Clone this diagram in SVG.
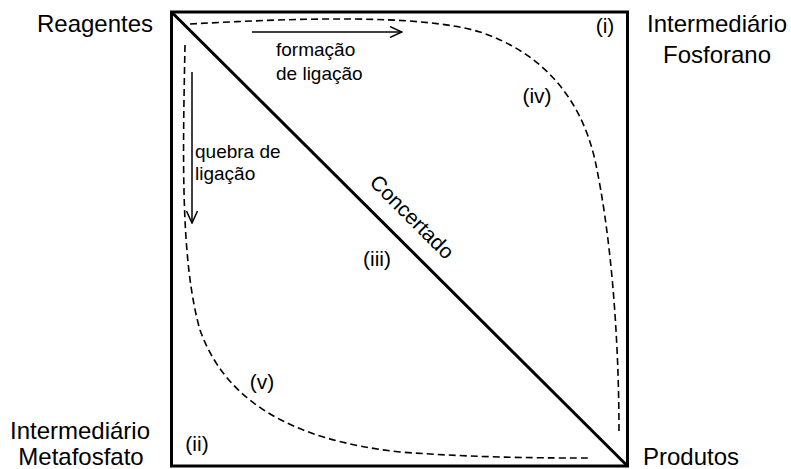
<svg xmlns="http://www.w3.org/2000/svg" width="791" height="469" viewBox="0 0 791 469">
<style>
text{font-family:"Liberation Sans",Arial,sans-serif;fill:#000}
.big{font-size:24px}
.small{font-size:19px}
.num{font-size:21px}
.dash{fill:none;stroke:#000;stroke-width:1.6;stroke-dasharray:7 4}
.arr{fill:none;stroke:#000;stroke-width:1.5}
</style>
<defs>
<marker id="open" viewBox="0 0 14 12" refX="13" refY="6" markerWidth="14" markerHeight="12" markerUnits="userSpaceOnUse" orient="auto">
<path d="M1,0.5 L13,6 L1,11.5" fill="none" stroke="#000" stroke-width="1.5"/>
</marker>
</defs>
<rect width="791" height="469" fill="#fff"/>
<g id="frame">
<rect x="171.5" y="12" width="456" height="454" fill="none" stroke="#000" stroke-width="3"/>
</g>
<g id="connectors">
<line id="concertado-line" x1="171.5" y1="12" x2="627.5" y2="466" stroke="#000" stroke-width="3"/>
<path id="path-iv" class="dash" d="M190,24 C300,18 420,14 480,32 C540,52 580,95 595,160 C610,230 619,330 619,433"/>
<path id="path-v" class="dash" d="M185,45 C183,150 180,260 200,330 C225,400 290,440 400,452 C480,458 550,458 590,458"/>
<line id="arrow-formacao" class="arr" x1="252" y1="32" x2="402" y2="32" marker-end="url(#open)"/>
<line id="arrow-quebra" class="arr" x1="192" y1="72" x2="192" y2="223" marker-end="url(#open)"/>
</g>
<g id="reagentes"><text class="big" x="95" y="32" text-anchor="middle">Reagentes</text></g>
<g id="fosforano"><text class="big" x="717" y="32" text-anchor="middle">Intermediário</text><text class="big" x="717" y="63" text-anchor="middle">Fosforano</text></g>
<g id="metafosfato"><text class="big" x="80" y="439" text-anchor="middle">Intermediário</text><text class="big" x="81" y="465" text-anchor="middle">Metafosfato</text></g>
<g id="produtos"><text class="big" x="643" y="465">Produtos</text></g>
<g id="label-formacao"><text class="small" x="276" y="56">formação</text><text class="small" x="276" y="80">de ligação</text></g>
<g id="label-quebra"><text class="small" x="195" y="158">quebra de</text><text class="small" x="195" y="180">ligação</text></g>
<g id="label-concertado"><text class="num" transform="translate(407,222) rotate(45)" text-anchor="middle">Concertado</text></g>
<g id="label-i"><text class="num" x="605" y="33" text-anchor="middle">(i)</text></g>
<g id="label-ii"><text class="num" x="197" y="451" text-anchor="middle">(ii)</text></g>
<g id="label-iii"><text class="num" x="377" y="266" text-anchor="middle">(iii)</text></g>
<g id="label-iv"><text class="num" x="537" y="103" text-anchor="middle">(iv)</text></g>
<g id="label-v"><text class="num" x="262" y="389" text-anchor="middle">(v)</text></g>
</svg>
